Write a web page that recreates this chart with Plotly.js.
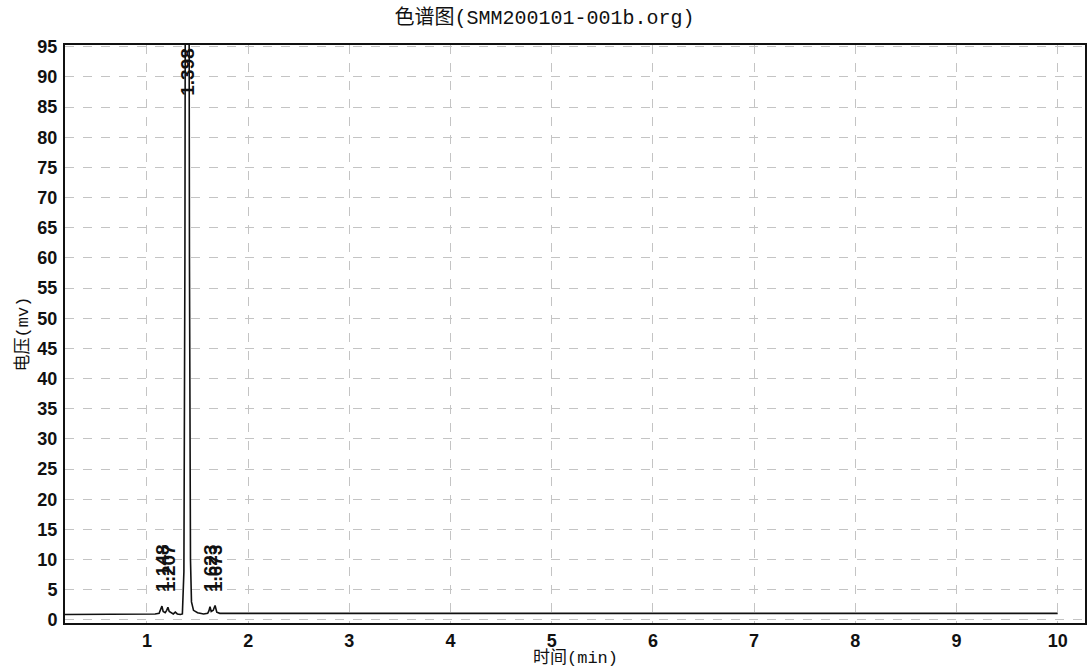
<!DOCTYPE html>
<html>
<head>
<meta charset="utf-8">
<script src="https://cdn.plot.ly/plotly-3.0.1.min.js"></script>
<style>html,body{margin:0;padding:0;background:#fff;}#chart{width:1089px;height:670px;}</style>
</head>
<body>
<div id="chart"></div>
<script>
// Chromatogram trace (time in min, voltage in mV)
const timeMin = [0.19, 0.5, 0.9, 1.0, 1.08, 1.12, 1.135, 1.148, 1.16, 1.18, 1.195, 1.207, 1.22, 1.24, 1.26, 1.28, 1.30, 1.33, 1.35, 1.365, 1.375, 1.385, 1.398, 1.41, 1.42, 1.43, 1.44, 1.46, 1.50, 1.56, 1.60, 1.612, 1.623, 1.635, 1.655, 1.673, 1.69, 1.72, 1.80, 2, 3, 4, 5, 6, 7, 8, 9, 10];
const voltage = [0.9, 0.9, 1.0, 1.0, 1.0, 1.1, 1.6, 2.3, 1.4, 1.2, 1.6, 2.1, 1.4, 1.2, 1.0, 1.3, 1.0, 0.9, 1.0, 8, 60, 180, 260, 180, 60, 10, 3, 1.6, 1.2, 1.0, 1.1, 1.5, 2.2, 1.4, 1.6, 2.4, 1.3, 1.1, 1.1, 1.1, 1.1, 1.1, 1.1, 1.1, 1.1, 1.1, 1.1, 1.1];
// Peak labels (retention times)
const peakTimes = [1.148, 1.207, 1.398, 1.623, 1.673];
const peakLabels = ["1.148", "1.207", "1.398", "1.623", "1.673"];
const labelBase = [4.3, 4.3, 86.6, 4.3, 4.3];
const xTicks = [1, 2, 3, 4, 5, 6, 7, 8, 9, 10];
const yTicks = [0, 5, 10, 15, 20, 25, 30, 35, 40, 45, 50, 55, 60, 65, 70, 75, 80, 85, 90, 95];

const trace = {
  x: timeMin, y: voltage, type: 'scatter', mode: 'lines',
  line: {color: '#111', width: 1.6}, hoverinfo: 'skip', cliponaxis: true
};

const annotations = peakTimes.map((t, i) => ({
  x: t, y: labelBase[i], xref: 'x', yref: 'y',
  text: peakLabels[i], textangle: -90, showarrow: false,
  xanchor: 'center', yanchor: 'bottom',
  font: {family: 'Liberation Sans, Arial, sans-serif', size: 19, color: '#111', weight: 'bold'}
}));

const cjk = '"Liberation Mono", "Noto Sans CJK SC", monospace';
annotations.push({
  x: 0.5, y: 0, xref: 'paper', yref: 'paper', xanchor: 'center', yanchor: 'top',
  yshift: -23, showarrow: false, text: '时间(min)',
  font: {family: cjk, size: 17, color: '#111'}
});

const tickFont = {family: 'Liberation Sans, Arial, sans-serif', size: 18, color: '#111', weight: 'bold'};

const layout = {
  width: 1089, height: 670,
  paper_bgcolor: '#fff', plot_bgcolor: '#fff',
  margin: {l: 65, r: 4, t: 45, b: 47},
  showlegend: false,
  title: {text: '色谱图(SMM200101-001b.org)', x: 0.5, xanchor: 'center', y: 0.975, yanchor: 'middle',
          font: {family: cjk, size: 20, color: '#111'}},
  xaxis: {
    range: [0.19, 10.27], tickvals: xTicks, ticktext: xTicks.map(String),
    showgrid: true, gridcolor: '#c4c4c4', griddash: 'dash', gridwidth: 1,
    showline: true, linecolor: '#111', linewidth: 2, mirror: true,
    ticks: '', zeroline: false, tickfont: tickFont, ticklabelstandoff: 0
  },
  yaxis: {
    range: [-0.5, 95.3], tickvals: yTicks, ticktext: yTicks.map(String),
    showgrid: true, gridcolor: '#c4c4c4', griddash: 'dash', gridwidth: 1,
    showline: true, linecolor: '#111', linewidth: 2, mirror: true,
    ticks: '', zeroline: false, tickfont: tickFont, ticklabelstandoff: 2,
    title: {text: '电压(mv)', font: {family: cjk, size: 17, color: '#111'}, standoff: 4}
  },
  annotations: annotations
};

Plotly.newPlot('chart', [trace], layout, {staticPlot: true, displayModeBar: false});
</script>
</body>
</html>
